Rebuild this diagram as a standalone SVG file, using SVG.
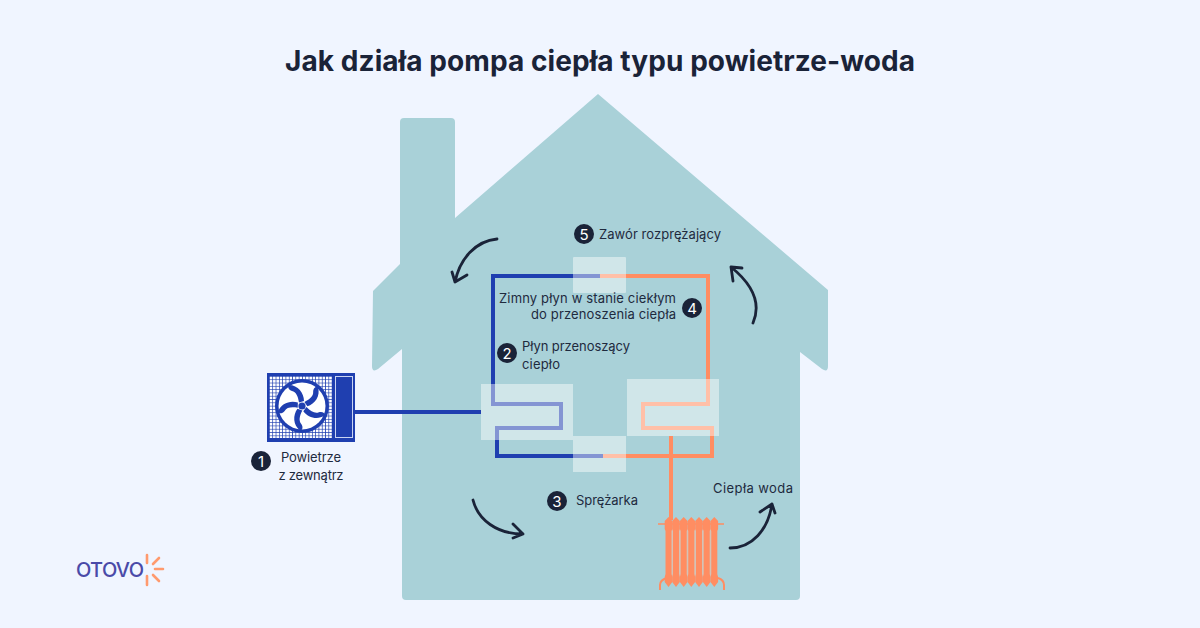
<svg xmlns="http://www.w3.org/2000/svg" xmlns:xlink="http://www.w3.org/1999/xlink" width="1200" height="628" viewBox="0 0 1200 628">
<style>
text{font-family:"Inter","Liberation Sans",sans-serif;fill:#1e2a3e;font-size:13px}
.title{font-size:28px;font-weight:650;fill:#1a2338}
.badge circle{fill:#1a2338}
.badge text{fill:#fff;font-size:15px;text-anchor:middle}
.pipe{fill:none;stroke-width:4;stroke-linejoin:miter}
.blue{stroke:#1f3fb0}
.orange{stroke:#ff8d62}
.glass{fill:#fff;fill-opacity:.45}
.flow{fill:none;stroke:#1a2338;stroke-width:2.8;stroke-linecap:round;stroke-linejoin:round}
.ray{stroke:#ff9a6e;stroke-width:2.6;stroke-linecap:round}
</style>
<defs>
<pattern id="grid" width="3.3" height="3.3" patternUnits="userSpaceOnUse" x="269" y="376">
<rect width="3.3" height="3.3" fill="#fff"/>
<path d="M0 0H3.3M0 0V3.3" stroke="#1f3fb0" stroke-width="1.4" fill="none"/>
</pattern>
<path id="blade" d="M-13 -21C-4 -21 2 -13 2 -5L-3 -3.500C-4 -10 -6 -14 -10 -15C-13 -16 -15 -19 -13 -21Z" fill="#1f3fb0"/>
<path id="fin" d="M0 517L3.800 521V529L3 531V574L3.800 577V582L0 587L-3.800 582V577L-3 574V531L-3.800 529V521Z" fill="#ff8d62"/>
</defs>
<rect width="1200" height="628" fill="#f0f5ff"/>
<text class="title" x="600" y="71" text-anchor="middle" textLength="630" lengthAdjust="spacing">Jak działa pompa ciepła typu powietrze-woda</text>
<g id="house">
<path d="M598 94L828 290V366Q828 373 822 369L800 352V596Q800 600 796 600H406Q402 600 402 596V349L378 369Q372 373 372 366L373 291L400 264V122Q400 118 404 118H451Q455 118 455 122V218Z" fill="#a9d1d8"/>
</g>
<g id="connectors">
<path class="pipe blue" d="M355 412H481"/>
<path class="pipe blue" d="M600 276H493V404H561V428H497V456H603"/>
<path class="pipe orange" d="M600 276H708V404H643V428H712V456H603"/>
<path class="pipe orange" d="M671 436V520"/>
<path class="flow" d="M497 239C476 241 460 258 455 282M452 272L455 282L467 275"/>
<path class="flow" d="M753 323C762 302 752 284 731 267M742 268L731 267L733 281"/>
<path class="flow" d="M473 500C478 520 497 534 523 534M513 524L523 534L513 538"/>
<path class="flow" d="M730 548C752 548 768 530 772 504M760 512L772 504L775 513"/>
</g>
<g id="heat-exchanger-left"><rect class="glass" x="481" y="384" width="92" height="56"/></g>
<g id="heat-exchanger-right"><rect class="glass" x="627" y="379" width="92" height="57"/></g>
<g id="expansion-valve"><rect class="glass" x="573" y="257" width="53" height="36" rx="1"/></g>
<g id="compressor"><rect class="glass" x="573" y="436" width="53" height="36"/></g>
<g id="outdoor-unit">
<rect x="267" y="373" width="88" height="69" fill="#1f3fb0"/>
<rect x="269" y="376" width="63" height="62" fill="url(#grid)"/>
<rect x="335.500" y="376.500" width="17" height="61" fill="#1f3fb0" stroke="#c9d4f2" stroke-width="1"/>
<circle cx="302" cy="406" r="27" fill="#1f3fb0"/>
<circle cx="302" cy="406" r="23.500" fill="#fff"/>
<g transform="translate(302 406)">
<use href="#blade"/>
<use href="#blade" transform="rotate(72)"/>
<use href="#blade" transform="rotate(144)"/>
<use href="#blade" transform="rotate(216)"/>
<use href="#blade" transform="rotate(288)"/>
<circle r="3.600" fill="#1f3fb0"/>
</g>
</g>
<g id="radiator">
<path d="M658 524H724" stroke="#ff8d62" stroke-width="1.500" fill="none"/>
<path d="M667 578Q660 580 660 585V590M718 578Q724 580 724 585V590" stroke="#ff8d62" stroke-width="2" fill="none"/>
<rect x="667" y="528" width="49" height="48" fill="#ffb596" fill-opacity=".5"/>
<use href="#fin" x="668.500"/><use href="#fin" x="676"/><use href="#fin" x="683.700"/><use href="#fin" x="691.300"/><use href="#fin" x="699"/><use href="#fin" x="706.700"/><use href="#fin" x="714.300"/>
</g>
<g id="label-1" class="badge"><circle cx="261" cy="461" r="10"/><text x="261" y="466.500">1</text></g>
<text x="311" y="462" text-anchor="middle" textLength="60">Powietrze</text>
<text x="311" y="480" text-anchor="middle" textLength="65">z zewnątrz</text>
<g id="label-2" class="badge"><circle cx="507" cy="353" r="10"/><text x="507" y="358.500">2</text></g>
<text x="522" y="351" textLength="108">Płyn przenoszący</text>
<text x="522" y="369" textLength="38">ciepło</text>
<g id="label-3" class="badge"><circle cx="557" cy="501" r="10"/><text x="557" y="506.500">3</text></g>
<text x="576" y="505" textLength="62">Sprężarka</text>
<g id="label-4" class="badge"><circle cx="692" cy="308" r="10"/><text x="692" y="313.500">4</text></g>
<text x="499" y="303" textLength="177">Zimny płyn w stanie ciekłym</text>
<text x="531" y="319" textLength="145">do przenoszenia ciepła</text>
<g id="label-5" class="badge"><circle cx="584" cy="234" r="10"/><text x="584" y="239.500">5</text></g>
<text x="599" y="239" textLength="122">Zawór rozprężający</text>
<text x="713" y="493" textLength="80">Ciepła woda</text>
<g id="logo">
<text x="76" y="577" textLength="68" style="font-size:20px;fill:#4a4aa8;font-weight:500">OTOVO</text>
<path class="ray" d="M147 555V563M159 558L153 564M155 569H163M153 575L159 581M147 576V585"/>
</g>
</svg>
